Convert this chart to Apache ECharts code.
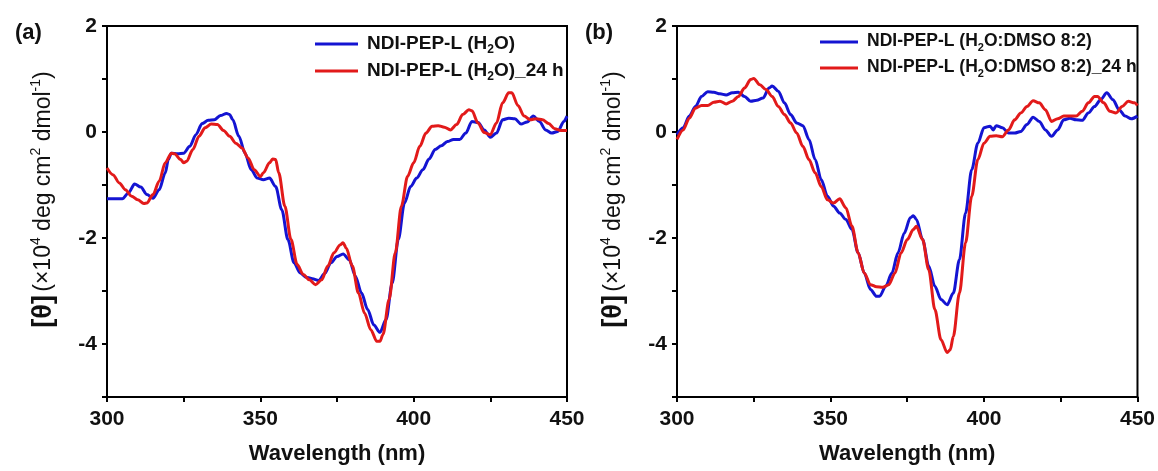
<!DOCTYPE html>
<html><head><meta charset="utf-8">
<script src="https://cdn.jsdelivr.net/npm/echarts@6/dist/echarts.min.js"></script>
<style>html,body{margin:0;padding:0;background:#fff}#c{width:1158px;height:471px}</style>
</head><body><div id="c"></div>
<script>
// Panel (a) – NDI-PEP-L in H2O
const aBlueX = [300,303,305,307,309,311,313,315,317,319,320,321,323,325,327,329,331,333,335,337,339,340,341,343,345,347,349,351,353,355,357,359,361,363,365,367,369,371,373,375,377,379,381,383,385,387,389,391,393,395,397,399,401,403,405,407,409,411,413,415,417,419,421,423,425,427,429,431,433,435,437,439,441,443,445,447,449,450];
const aBlueY = [-1.26,-1.26,-1.26,-1.15,-0.98,-1.04,-1.18,-1.25,-1.09,-0.77,-0.52,-0.40,-0.41,-0.40,-0.27,-0.05,0.16,0.22,0.23,0.31,0.35,0.33,0.23,-0.08,-0.40,-0.71,-0.87,-0.90,-0.87,-1.03,-1.47,-2.03,-2.47,-2.66,-2.74,-2.77,-2.80,-2.67,-2.47,-2.35,-2.30,-2.41,-2.72,-3.04,-3.35,-3.64,-3.78,-3.54,-2.85,-2.03,-1.34,-1.03,-0.87,-0.71,-0.51,-0.33,-0.26,-0.18,-0.14,-0.14,-0.02,0.20,0.18,0.04,-0.10,-0.02,0.23,0.26,0.25,0.15,0.19,0.30,0.20,0.04,-0.02,0.01,0.20,0.30];
const aRedX = [300,302,304,306,308,310,312,313,315,317,319,321,322,324,325,326,328,330,332,334,336,338,340,342,344,346,348,350,351,353,354,355,356,358,360,362,364,366,368,370,372,374,376,377,378,380,382,384,386,388,389,390,392,394,396,398,400,402,404,406,408,410,412,414,416,418,419,421,423,425,427,429,431,432,434,436,438,440,442,444,446,448,450];
const aRedY = [-0.68,-0.81,-0.96,-1.09,-1.21,-1.28,-1.35,-1.34,-1.18,-0.93,-0.58,-0.40,-0.41,-0.52,-0.58,-0.55,-0.33,-0.08,0.08,0.15,0.14,0.03,-0.08,-0.21,-0.30,-0.49,-0.71,-0.84,-0.77,-0.58,-0.51,-0.52,-0.77,-1.40,-2.03,-2.50,-2.69,-2.79,-2.88,-2.79,-2.53,-2.28,-2.13,-2.09,-2.19,-2.53,-3.04,-3.42,-3.73,-3.95,-3.95,-3.82,-3.16,-2.28,-1.40,-0.84,-0.58,-0.27,-0.02,0.11,0.12,0.09,0.04,0.14,0.33,0.42,0.40,0.17,-0.01,-0.05,0.17,0.55,0.74,0.74,0.50,0.30,0.23,0.25,0.23,0.16,0.06,0.03,0.03];

// Panel (b) – NDI-PEP-L in H2O:DMSO 8:2
const bBlueX = [300,302,304,306,308,310,312,314,316,318,320,322,324,326,328,330,331,333,335,337,339,341,343,345,347,349,351,353,355,357,359,361,363,365,366,368,370,372,374,376,377,378,380,382,384,386,388,390,392,394,396,398,400,402,403,404,406,408,410,412,414,416,418,420,422,424,426,428,430,432,434,436,438,440,442,444,446,448,450];
const bBlueY = [-0.05,0.08,0.30,0.48,0.67,0.76,0.75,0.72,0.70,0.74,0.75,0.67,0.58,0.60,0.64,0.83,0.87,0.77,0.55,0.33,0.17,0.12,-0.14,-0.52,-0.90,-1.21,-1.40,-1.53,-1.65,-1.84,-2.28,-2.66,-2.97,-3.10,-3.10,-2.91,-2.66,-2.28,-1.91,-1.62,-1.58,-1.65,-2.03,-2.53,-2.91,-3.16,-3.26,-3.04,-2.41,-1.53,-0.71,-0.21,0.08,0.11,0.04,0.12,0.08,-0.02,-0.02,0.01,0.14,0.28,0.20,0.04,-0.08,0.04,0.23,0.26,0.23,0.22,0.36,0.48,0.61,0.74,0.61,0.42,0.30,0.25,0.30];
const bRedX = [300,302,304,306,308,310,312,314,316,318,320,322,324,325,327,329,331,333,335,337,339,341,343,345,347,349,351,353,355,357,359,361,363,365,367,369,371,373,375,377,378,380,382,384,386,388,389,390,392,394,396,398,400,402,404,406,408,410,412,414,416,418,420,422,424,426,428,430,432,434,436,437,439,441,443,445,447,449,450];
const bRedY = [-0.14,0.04,0.26,0.45,0.50,0.50,0.56,0.58,0.53,0.58,0.67,0.83,0.99,1.01,0.89,0.80,0.67,0.48,0.33,0.17,-0.02,-0.27,-0.52,-0.77,-1.03,-1.28,-1.34,-1.26,-1.43,-1.78,-2.28,-2.66,-2.88,-2.92,-2.93,-2.88,-2.66,-2.28,-2.03,-1.84,-1.78,-2.03,-2.60,-3.35,-3.92,-4.16,-4.11,-3.86,-3.04,-2.09,-1.21,-0.52,-0.21,-0.08,-0.07,-0.09,0.04,0.23,0.36,0.48,0.59,0.55,0.42,0.20,0.25,0.30,0.30,0.30,0.39,0.55,0.67,0.67,0.55,0.39,0.36,0.48,0.58,0.55,0.50];

const seriesNames = [
  'NDI-PEP-L (H2O)', 'NDI-PEP-L (H2O)_24 h',
  'NDI-PEP-L (H2O:DMSO 8:2)', 'NDI-PEP-L (H2O:DMSO 8:2)_24 h'
];
const panelLabels = ['(a)', '(b)'];
const xTitle = 'Wavelength (nm)';

const BLUE = '#1414d2', RED = '#e21a1a';
const FONT = '"Liberation Sans", Arial, sans-serif';
const zip = (xs, ys) => xs.map((x, i) => [x, ys[i]]);

const grids = [
  {left: 107, top: 26, width: 460, height: 371},
  {left: 677, top: 26, width: 461, height: 371}
].map(g => Object.assign(g, {show: true, borderColor: '#000', borderWidth: 2, backgroundColor: 'transparent'}));

const mkX = gi => ({
  type: 'value', gridIndex: gi, min: 300, max: 450, interval: 50,
  name: xTitle, nameLocation: 'middle', nameGap: 46,
  nameTextStyle: {fontFamily: FONT, fontWeight: 'bold', fontSize: 22, color: '#111'},
  axisLine: {show: true, onZero: false, lineStyle: {color: '#000', width: 2}},
  axisTick: {show: true, length: 5, lineStyle: {color: '#000', width: 2}},
  minorTick: {show: true, splitNumber: 2, length: 5, lineStyle: {color: '#000', width: 2}},
  axisLabel: {fontFamily: FONT, fontWeight: 'bold', fontSize: 21, color: '#111', margin: 12},
  splitLine: {show: false}, minorSplitLine: {show: false}
});
const mkY = gi => ({
  type: 'value', gridIndex: gi, min: -5, max: 2, interval: 1,
  name: '{b|[θ]} {n|(×10}{s|4}{n| deg cm}{s|2}{n| dmol}{s|-1}{n|)}',
  nameLocation: 'middle', nameGap: 48, nameRotate: 90,
  nameTextStyle: {
    padding: [0, 0, 0, 24],
    rich: {
      b: {fontFamily: FONT, fontWeight: 'bold', fontSize: 27, color: '#111', lineHeight: 30},
      n: {fontFamily: FONT, fontSize: 23, color: '#111', lineHeight: 30},
      s: {fontFamily: FONT, fontSize: 14, color: '#111', verticalAlign: 'top', lineHeight: 22}
    }
  },
  axisLine: {show: true, onZero: false, lineStyle: {color: '#000', width: 2}},
  axisTick: {show: true, length: 5, lineStyle: {color: '#000', width: 2}},
  axisLabel: {fontFamily: FONT, fontWeight: 'bold', fontSize: 21, color: '#111', margin: 10,
    formatter: v => (Math.round(v) % 2 === 0 ? String(Math.round(v)) : '')},
  splitLine: {show: false}
});

const richLegend = fs => ({
  n: {fontFamily: FONT, fontWeight: 'bold', fontSize: fs, color: '#111', lineHeight: 20, verticalAlign: 'top'},
  s: {fontFamily: FONT, fontWeight: 'bold', fontSize: Math.round(fs * 0.65), color: '#111', verticalAlign: 'top', lineHeight: 12, padding: [10, 0, 0, 0]}
});
const legendFmt = name => {
  const i = name.indexOf('H2O');
  return '{n|' + name.slice(0, i + 1) + '}{s|2}{n|' + name.slice(i + 2) + '}';
};
const mkLegend = (names, left, top, iw, fs) => ({
  orient: 'vertical', left: left, top: top, itemGap: 5, padding: 0,
  itemWidth: iw, itemHeight: 3, icon: 'rect',
  data: names, formatter: legendFmt,
  textStyle: {padding: [0, 0, 0, 4], rich: richLegend(fs)}
});

const mkLine = (name, xs, ys, color, gi) => ({
  type: 'line', name: name, xAxisIndex: gi, yAxisIndex: gi,
  data: zip(xs, ys), showSymbol: false, smooth: 0.3, smoothMonotone: 'x',
  lineStyle: {color: color, width: 3}, itemStyle: {color: color}
});

const chart = echarts.init(document.getElementById('c'), null, {renderer: 'canvas'});
chart.setOption({
  animation: false,
  backgroundColor: '#fff',
  title: [
    {text: panelLabels[0], left: 10, top: 17, textStyle: {fontFamily: FONT, fontWeight: 'bold', fontSize: 22, color: '#111'}},
    {text: panelLabels[1], left: 580, top: 17, textStyle: {fontFamily: FONT, fontWeight: 'bold', fontSize: 22, color: '#111'}}
  ],
  grid: grids,
  xAxis: [mkX(0), mkX(1)],
  yAxis: [mkY(0), mkY(1)],
  legend: [mkLegend(seriesNames.slice(0, 2), 315, 34, 43, 19), mkLegend(seriesNames.slice(2, 4), 820, 32, 38, 17.5)],
  series: [
    mkLine(seriesNames[0], aBlueX, aBlueY, BLUE, 0),
    mkLine(seriesNames[1], aRedX, aRedY, RED, 0),
    mkLine(seriesNames[2], bBlueX, bBlueY, BLUE, 1),
    mkLine(seriesNames[3], bRedX, bRedY, RED, 1)
  ]
});
</script></body></html>
